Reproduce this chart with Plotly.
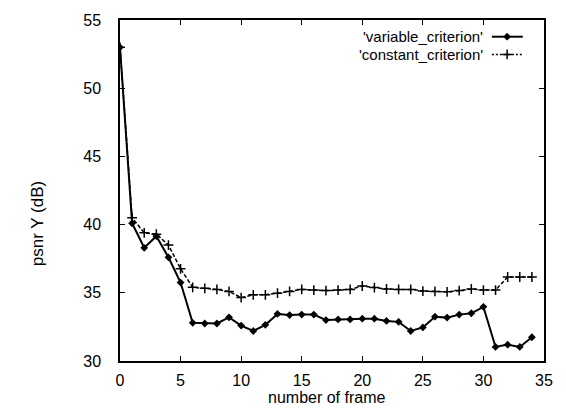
import plotly.graph_objects as go

frames = list(range(35))
variable_criterion = [53.0, 40.1, 38.3, 39.15, 37.6, 35.75, 32.8, 32.75, 32.75, 33.2,
                      32.6, 32.2, 32.65, 33.45, 33.37, 33.4, 33.4, 33.0, 33.05, 33.05,
                      33.1, 33.1, 32.94, 32.87, 32.2, 32.46, 33.25, 33.18, 33.4, 33.5,
                      33.97, 31.03, 31.2, 31.03, 31.74]
constant_criterion = [53.0, 40.5, 39.4, 39.3, 38.5, 36.76, 35.4, 35.33, 35.25, 35.1,
                      34.65, 34.85, 34.85, 34.97, 35.1, 35.25, 35.2, 35.16, 35.2, 35.25,
                      35.5, 35.38, 35.28, 35.25, 35.25, 35.13, 35.1, 35.07, 35.16, 35.28,
                      35.2, 35.2, 36.16, 36.16, 36.16]
x_ticks = [0, 5, 10, 15, 20, 25, 30, 35]
y_ticks = [30, 35, 40, 45, 50, 55]
series_names = ["'variable_criterion'", "'constant_criterion'"]

FONT = "Liberation Sans, Arial, Helvetica, sans-serif"

fig = go.Figure()
fig.add_trace(go.Scatter(
    x=frames, y=variable_criterion, mode="lines+markers", name=series_names[0],
    line=dict(color="black", width=2),
    marker=dict(symbol="diamond", size=6, color="black"),
    showlegend=False))
fig.add_trace(go.Scatter(
    x=frames, y=constant_criterion, mode="lines+markers", name=series_names[1],
    line=dict(color="black", width=1.5, dash="4px,2px"),
    marker=dict(symbol="cross-thin", size=7, line=dict(color="black", width=1.5)),
    showlegend=False))

# legend keys (gnuplot style: text, then sample on the right)
key_rows = [0.951, 0.899]
key_line = [0.877, 0.950]
key_mark = 0.913
fig.add_trace(go.Scatter(x=key_line, y=[key_rows[0]] * 2, mode="lines", xaxis="x2", yaxis="y2",
                         line=dict(color="black", width=2), showlegend=False, hoverinfo="skip"))
fig.add_trace(go.Scatter(x=[key_mark], y=[key_rows[0]], mode="markers", xaxis="x2", yaxis="y2",
                         marker=dict(symbol="diamond", size=6, color="black"),
                         showlegend=False, hoverinfo="skip"))
fig.add_trace(go.Scatter(x=key_line, y=[key_rows[1]] * 2, mode="lines", xaxis="x2", yaxis="y2",
                         line=dict(color="black", width=1.5, dash="2px,2px"),
                         showlegend=False, hoverinfo="skip"))
fig.add_trace(go.Scatter(x=[key_mark], y=[key_rows[1]], mode="markers", xaxis="x2", yaxis="y2",
                         marker=dict(symbol="cross-thin", size=7, line=dict(color="black", width=1.5)),
                         showlegend=False, hoverinfo="skip"))
for name, yy in zip(series_names, key_rows):
    fig.add_annotation(text=name, x=0.861, y=yy, xref="paper", yref="paper",
                       xanchor="right", yanchor="middle", showarrow=False,
                       font=dict(family=FONT, size=15, color="black"))

fig.add_annotation(text="psnr Y (dB)", x=-0.196, y=0.404, xref="paper", yref="paper",
                   textangle=-90, xanchor="center", yanchor="middle", showarrow=False,
                   font=dict(family=FONT, size=17, color="black"))
fig.add_annotation(text="number of frame", x=0.487, y=-0.108, xref="paper", yref="paper",
                   xanchor="center", yanchor="middle", showarrow=False,
                   font=dict(family=FONT, size=16, color="black"))

axis_common = dict(showgrid=False, zeroline=False, showline=True, linecolor="black",
                   linewidth=1.5, mirror="ticks", ticks="inside", ticklen=5,
                   tickwidth=1, tickcolor="black",
                   tickfont=dict(family=FONT, size=16, color="black"))
fig.update_layout(
    width=566, height=412,
    margin=dict(l=120, r=22, t=12, b=51),
    paper_bgcolor="white", plot_bgcolor="white",
    xaxis=dict(range=[0, 35], tickvals=x_ticks, ticklabelstandoff=4, **axis_common),
    yaxis=dict(range=[30, 55], tickvals=y_ticks, ticklabelstandoff=14, **axis_common),
    xaxis2=dict(range=[0, 1], overlaying="x", visible=False),
    yaxis2=dict(range=[0, 1], overlaying="y", visible=False),
)

fig.write_html("out.html", config={"displayModeBar": False},
               post_script="document.body.style.margin='0px';document.body.style.overflow='hidden';")
